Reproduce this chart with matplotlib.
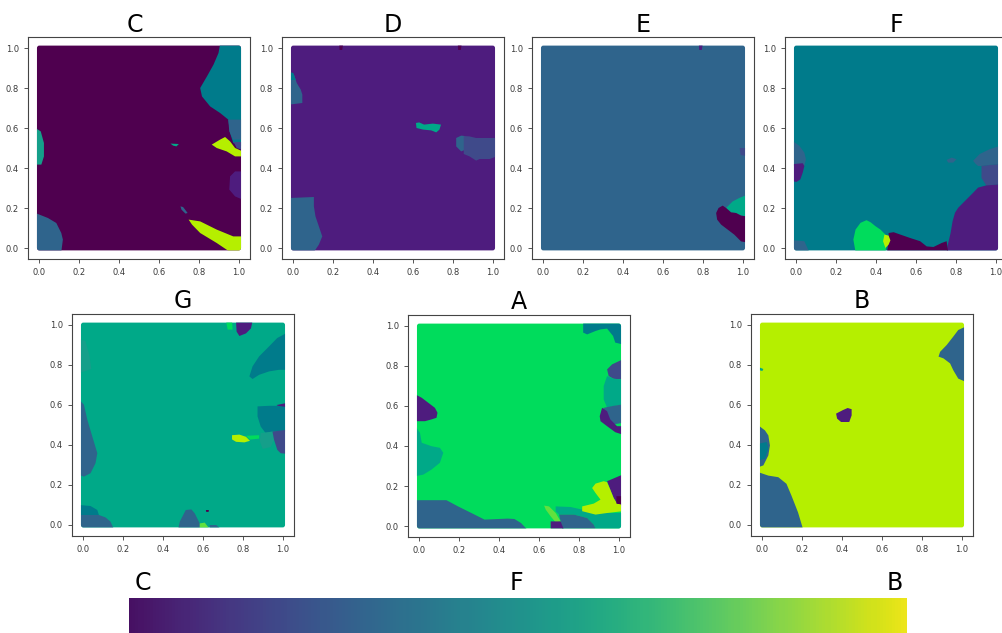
import matplotlib
matplotlib.use("Agg")
import numpy as np
import matplotlib.pyplot as plt
from matplotlib.patches import FancyBboxPatch
from matplotlib.cm import ScalarMappable
from matplotlib.colors import Normalize, ListedColormap

# cluster colours
colours = {
    "C": "#4f004f",
    "D": "#4e1c7e",
    "H": "#3f4a8a",
    "E": "#2f648c",
    "F": "#007b8b",
    "G": "#00a988",
    "G2": "#159f8a",
    "A": "#00dc5c",
    "LG": "#62e03e",
    "B": "#b5ef00",
}

# panel order, as drawn
panel_names = ["C", "D", "E", "F", "G", "A", "B"]

# each panel: background cluster + list of (cluster, outline) patches
regions_C = [
    ("F", [(0.907, 1.02), (1.02, 1.02), (1.02, 0.508), (0.973, 0.525), (0.957, 0.575), (0.948, 0.642),
           (0.907, 0.675), (0.857, 0.708), (0.816, 0.758), (0.807, 0.8), (0.841, 0.858), (0.874, 0.917),
           (0.899, 0.975)]),
    ("E", [(0.948, 0.642), (1.02, 0.642), (1.02, 0.542), (0.973, 0.542), (0.953, 0.583)]),
    ("H", [(0.975, 0.53), (1.02, 0.53), (1.02, 0.49), (0.99, 0.5)]),
    ("B", [(0.865, 0.517), (0.907, 0.542), (0.932, 0.555), (0.957, 0.533), (0.982, 0.5), (1.02, 0.483),
           (1.02, 0.458), (0.982, 0.458), (0.94, 0.483), (0.89, 0.5)]),
    ("D", [(0.957, 0.358), (0.982, 0.383), (1.02, 0.383), (1.02, 0.242), (0.982, 0.258), (0.953, 0.292)]),
    ("B", [(0.749, 0.142), (0.807, 0.133), (0.89, 0.092), (0.973, 0.058), (1.02, 0.058), (1.02, -0.02),
           (0.957, -0.02), (0.89, 0.025), (0.807, 0.075), (0.766, 0.117)]),
    ("G", [(0.658, 0.522), (0.7, 0.52), (0.688, 0.508), (0.671, 0.512)]),
    ("E", [(0.708, 0.208), (0.721, 0.205), (0.744, 0.175), (0.733, 0.172), (0.713, 0.192)]),
    ("G2", [(-0.02, 0.6), (0.007, 0.583), (0.023, 0.525), (0.023, 0.458), (0.01, 0.417), (-0.02, 0.417)]),
    ("E", [(-0.02, 0.175), (0.043, 0.15), (0.085, 0.125), (0.11, 0.075), (0.118, 0.042), (0.11, -0.02),
           (-0.02, -0.02)]),
]

regions_D = [
    ("E", [(-0.02, 0.875), (0.003, 0.867), (0.017, 0.825), (0.037, 0.792), (0.045, 0.767), (0.045, 0.725),
           (-0.02, 0.717)]),
    ("F", [(-0.02, 0.88), (0.0, 0.875), (0.012, 0.84), (-0.02, 0.84)]),
    ("E", [(-0.02, 0.25), (0.103, 0.255), (0.103, 0.208), (0.111, 0.158), (0.128, 0.108), (0.145, 0.058),
           (0.128, 0.017), (0.103, -0.02), (-0.02, -0.02)]),
    ("G", [(0.615, 0.625), (0.631, 0.628), (0.656, 0.617), (0.7, 0.622), (0.741, 0.617), (0.733, 0.592),
           (0.717, 0.578), (0.692, 0.588), (0.651, 0.592), (0.618, 0.6)]),
    ("E", [(0.817, 0.55), (0.842, 0.562), (0.86, 0.56), (0.86, 0.49), (0.842, 0.483), (0.817, 0.508)]),
    ("H", [(0.855, 0.56), (0.884, 0.558), (0.917, 0.55), (1.02, 0.55), (1.02, 0.458), (0.985, 0.445),
           (0.935, 0.445), (0.917, 0.437), (0.884, 0.458), (0.855, 0.47)]),
    ("C", [(0.23, 1.02), (0.25, 1.02), (0.245, 0.99), (0.232, 0.99)]),
    ("C", [(0.825, 1.02), (0.845, 1.02), (0.84, 0.99), (0.827, 0.99)]),
]

regions_E = [
    ("G", [(0.917, 0.2), (0.95, 0.233), (0.983, 0.25), (1.02, 0.265), (1.02, 0.158), (0.992, 0.162),
           (0.967, 0.175), (0.942, 0.178)]),
    ("C", [(0.867, 0.175), (0.879, 0.2), (0.9, 0.212), (0.917, 0.2), (0.942, 0.178), (0.967, 0.175),
           (0.992, 0.162), (1.02, 0.158), (1.02, 0.028), (0.992, 0.033), (0.958, 0.067), (0.925, 0.092),
           (0.892, 0.117), (0.872, 0.142)]),
    ("D", [(0.78, 1.02), (0.8, 1.02), (0.795, 0.99), (0.782, 0.99)]),
    ("H", [(0.985, 0.5), (1.02, 0.5), (1.02, 0.46), (0.99, 0.465)]),
]

regions_F = [
    ("E", [(-0.02, 0.536), (0.015, 0.511), (0.04, 0.477), (0.048, 0.444), (0.04, 0.41), (-0.02, 0.41)]),
    ("D", [(-0.02, 0.419), (0.032, 0.424), (0.04, 0.41), (0.032, 0.377), (0.02, 0.343), (0.0, 0.33),
           (-0.02, 0.335)]),
    ("E", [(0.887, 0.436), (0.92, 0.47), (0.97, 0.494), (1.02, 0.51), (1.02, 0.419), (0.97, 0.415),
           (0.929, 0.41), (0.912, 0.41), (0.9, 0.42)]),
    ("E", [(0.754, 0.44), (0.779, 0.452), (0.804, 0.444), (0.787, 0.427), (0.762, 0.427)]),
    ("H", [(0.929, 0.41), (0.97, 0.415), (1.02, 0.419), (1.02, 0.318), (0.953, 0.313), (0.929, 0.35)]),
    ("D", [(1.02, 0.318), (1.02, -0.02), (0.754, -0.02), (0.762, 0.025), (0.774, 0.075), (0.784, 0.134),
           (0.796, 0.176), (0.812, 0.201), (0.837, 0.226), (0.862, 0.251), (0.887, 0.276), (0.912, 0.302),
           (0.953, 0.313)]),
    ("C", [(0.463, 0.075), (0.488, 0.079), (0.522, 0.067), (0.571, 0.05), (0.621, 0.034), (0.654, 0.008),
           (0.688, 0.005), (0.729, 0.025), (0.754, 0.034), (0.762, -0.02), (0.455, -0.02), (0.463, 0.033)]),
    ("A", [(0.297, 0.092), (0.322, 0.126), (0.352, 0.139), (0.372, 0.129), (0.397, 0.109), (0.422, 0.092),
           (0.447, 0.067), (0.455, 0.034), (0.447, -0.02), (0.297, -0.02), (0.286, 0.042)]),
    ("B", [(0.442, 0.067), (0.463, 0.062), (0.472, 0.038), (0.463, 0.017), (0.447, 0.0), (0.435, 0.034)]),
    ("E", [(-0.02, 0.039), (0.04, 0.034), (0.065, -0.02), (-0.02, -0.02)]),
]

regions_G = [
    ("G2", [(-0.02, 0.93), (0.01, 0.92), (0.03, 0.85), (0.04, 0.78), (-0.02, 0.76)]),
    ("E", [(-0.02, 0.626), (0.003, 0.601), (0.02, 0.526), (0.045, 0.442), (0.07, 0.359), (0.061, 0.309),
           (0.036, 0.259), (0.003, 0.242), (-0.02, 0.25)]),
    ("F", [(-0.02, 0.1), (0.036, 0.095), (0.07, 0.075), (0.078, 0.05), (-0.02, 0.05)]),
    ("E", [(-0.02, 0.05), (0.078, 0.05), (0.111, 0.038), (0.136, 0.017), (0.153, -0.02), (-0.02, -0.02)]),
    ("E", [(0.514, 0.075), (0.542, 0.078), (0.559, 0.058), (0.584, 0.008), (0.584, -0.02), (0.476, -0.02),
           (0.484, 0.017), (0.501, 0.05)]),
    ("LG", [(0.584, 0.008), (0.609, 0.012), (0.634, -0.02), (0.584, -0.02)]),
    ("E", [(0.634, 0.0), (0.667, 0.0), (0.69, -0.02), (0.634, -0.02)]),
    ("C", [(0.615, 0.075), (0.63, 0.075), (0.628, 0.065), (0.616, 0.066)]),
    ("D", [(0.766, 1.02), (0.849, 1.02), (0.841, 0.983), (0.816, 0.958), (0.783, 0.945), (0.769, 0.967)]),
    ("A", [(0.716, 1.02), (0.746, 1.02), (0.749, 0.977), (0.724, 0.977)]),
    ("F", [(1.02, 0.96), (1.02, 0.776), (0.982, 0.776), (0.932, 0.768), (0.882, 0.751), (0.849, 0.73),
           (0.833, 0.743), (0.849, 0.793), (0.882, 0.843), (0.932, 0.893), (0.973, 0.935)]),
    ("F", [(0.874, 0.593), (0.932, 0.596), (1.02, 0.596), (1.02, 0.467), (0.949, 0.467), (0.915, 0.459),
           (0.89, 0.492), (0.874, 0.543)]),
    ("G2", [(0.89, 0.46), (0.949, 0.467), (0.957, 0.426), (0.94, 0.39), (0.9, 0.38), (0.885, 0.42)]),
    ("D", [(0.97, 0.6), (1.02, 0.61), (1.02, 0.59), (0.975, 0.596)]),
    ("H", [(0.949, 0.467), (1.02, 0.476), (1.02, 0.356), (0.99, 0.359), (0.973, 0.376), (0.957, 0.426)]),
    ("B", [(0.746, 0.449), (0.783, 0.452), (0.816, 0.441), (0.836, 0.421), (0.808, 0.413), (0.766, 0.416),
           (0.746, 0.428)]),
    ("A", [(0.816, 0.446), (0.882, 0.449), (0.882, 0.432), (0.836, 0.427)]),
]

regions_A = [
    ("F", [(0.822, 1.02), (1.02, 1.02), (1.02, 0.908), (0.983, 0.917), (0.972, 0.95), (0.942, 0.987),
           (0.909, 0.983), (0.884, 0.975), (0.842, 0.958), (0.822, 0.967)]),
    ("H", [(1.02, 0.833), (1.02, 0.733), (0.975, 0.736), (0.95, 0.75), (0.942, 0.783), (0.967, 0.808)]),
    ("G", [(0.942, 0.75), (0.975, 0.736), (1.02, 0.733), (1.02, 0.608), (0.975, 0.599), (0.942, 0.591),
           (0.925, 0.633), (0.925, 0.7)]),
    ("E", [(0.925, 0.591), (0.975, 0.601), (1.02, 0.608), (1.02, 0.516), (0.975, 0.508), (0.942, 0.533),
           (0.917, 0.566)]),
    ("D", [(0.917, 0.591), (0.942, 0.574), (0.958, 0.533), (0.992, 0.499), (1.02, 0.499), (1.02, 0.457),
           (0.983, 0.469), (0.942, 0.499), (0.909, 0.524), (0.905, 0.549)]),
    ("D", [(-0.02, 0.658), (0.012, 0.641), (0.045, 0.616), (0.078, 0.591), (0.091, 0.566), (0.086, 0.541),
           (0.061, 0.533), (0.028, 0.524), (-0.02, 0.524)]),
    ("G", [(-0.02, 0.499), (0.003, 0.466), (0.012, 0.416), (0.061, 0.399), (0.103, 0.391), (0.12, 0.366),
           (0.103, 0.316), (0.061, 0.282), (0.02, 0.257), (-0.02, 0.249)]),
    ("E", [(-0.02, 0.129), (0.136, 0.129), (0.194, 0.098), (0.261, 0.065), (0.327, 0.032), (0.443, 0.037),
           (0.477, 0.035), (0.51, 0.015), (0.543, -0.02), (-0.02, -0.02)]),
    ("G", [(0.684, 0.098), (0.759, 0.095), (0.817, 0.082), (0.908, 0.065), (1.02, 0.065), (1.02, -0.02),
           (0.888, -0.02), (0.875, 0.007), (0.842, 0.04), (0.776, 0.057), (0.701, 0.057), (0.684, 0.073)]),
    ("E", [(0.701, 0.057), (0.776, 0.057), (0.842, 0.04), (0.875, 0.007), (0.888, -0.02), (0.718, -0.02),
           (0.709, 0.023)]),
    ("LG", [(0.626, 0.102), (0.651, 0.098), (0.684, 0.065), (0.709, 0.023), (0.684, 0.018), (0.659, 0.048),
            (0.634, 0.082)]),
    ("D", [(0.659, 0.023), (0.709, 0.023), (0.726, -0.02), (0.659, -0.02)]),
    ("D", [(0.942, 0.224), (1.02, 0.257), (1.02, 0.099), (0.992, 0.112), (0.975, 0.14), (0.958, 0.182)]),
    ("B", [(0.867, 0.19), (0.884, 0.212), (0.925, 0.224), (0.942, 0.219), (0.958, 0.182), (0.975, 0.14),
           (0.992, 0.112), (1.02, 0.107), (1.02, 0.074), (0.942, 0.065), (0.884, 0.057), (0.817, 0.074),
           (0.817, 0.098), (0.875, 0.112), (0.909, 0.132), (0.884, 0.165)]),
    ("C", [(0.989, 0.149), (1.02, 0.149), (1.02, 0.107), (0.989, 0.112)]),
]

regions_B = [
    ("E", [(1.02, 0.992), (1.02, 0.716), (0.983, 0.732), (0.958, 0.774), (0.942, 0.808), (0.909, 0.833),
           (0.884, 0.842), (0.892, 0.866), (0.925, 0.9), (0.958, 0.942), (0.983, 0.975)]),
    ("D", [(0.37, 0.557), (0.403, 0.574), (0.428, 0.585), (0.448, 0.579), (0.448, 0.548), (0.436, 0.515),
           (0.395, 0.515), (0.375, 0.532)]),
    ("E", [(-0.02, 0.498), (0.013, 0.473), (0.03, 0.448), (0.038, 0.398), (0.03, 0.348), (0.005, 0.298),
           (-0.02, 0.289)]),
    ("F", [(-0.02, 0.406), (0.022, 0.415), (0.03, 0.381), (0.013, 0.331), (-0.02, 0.323)]),
    ("E", [(-0.02, 0.264), (0.03, 0.247), (0.08, 0.239), (0.121, 0.206), (0.146, 0.147), (0.179, 0.063),
           (0.204, -0.02), (-0.02, -0.02)]),
    ("G", [(-0.02, 0.79), (0.005, 0.78), (0.0, 0.77), (-0.02, 0.775)]),
]

panel_regions = {
    "C": regions_C, "D": regions_D, "E": regions_E, "F": regions_F,
    "G": regions_G, "A": regions_A, "B": regions_B,
}

# colour bar end labels
bar_labels = ["C", "F", "B"]

W, H = 1003, 633
# axes boxes in pixels: left, top (all 222 x 222)
boxes = {
    "C": (28, 37), "D": (282, 37), "E": (532, 37), "F": (785, 37),
    "G": (72, 314), "A": (408, 315), "B": (751, 314),
}
SIDE = 222
# the C title sits a touch left of centre in the original
title_x = {"C": 0.482}

plt.rcParams["axes.edgecolor"] = "#444444"
plt.rcParams["axes.linewidth"] = 0.8

fig = plt.figure(figsize=(W / 100, H / 100), dpi=100)

for name in panel_names:
    left, top = boxes[name]
    ax = fig.add_axes([left / W, 1 - (top + SIDE) / H, SIDE / W, SIDE / H])
    base = FancyBboxPatch((0, 0), 1, 1, boxstyle="round,pad=0.012,rounding_size=0.012",
                          fc=colours[name], ec="none")
    ax.add_patch(base)
    for cl, pts in panel_regions[name]:
        xs = [p[0] for p in pts]
        ys = [p[1] for p in pts]
        for poly in ax.fill(xs, ys, color=colours[cl], lw=0):
            poly.set_clip_path(base)
    ax.set_xlim(-0.057, 1.057)
    ax.set_ylim(-0.055, 1.055)
    ax.set_xticks([0, 0.2, 0.4, 0.6, 0.8, 1.0])
    ax.set_yticks([0, 0.2, 0.4, 0.6, 0.8, 1.0])
    ax.tick_params(labelsize=6, length=3, width=0.6, colors="#3a3a3a")
    ax.set_title(name, fontsize=17, pad=3 if top < 100 else 4.5, x=title_x.get(name, 0.5))

# colour bar along the bottom
vir = plt.get_cmap("viridis")
bar_cmap = ListedColormap(vir(np.linspace(0.04, 0.97, 256)))
cax = fig.add_axes([129 / W, 1 - 645 / H, 778 / W, 47 / H])
cb = fig.colorbar(ScalarMappable(norm=Normalize(0, 1), cmap=bar_cmap), cax=cax,
                  orientation="horizontal")
cb.set_ticks([])
cb.outline.set_visible(False)

for lab, xpix in zip(bar_labels, [143, 516, 895]):
    fig.text(xpix / W, 1 - 590 / H, lab, ha="center", va="baseline", fontsize=17)

fig.savefig("out.png", dpi=100)
